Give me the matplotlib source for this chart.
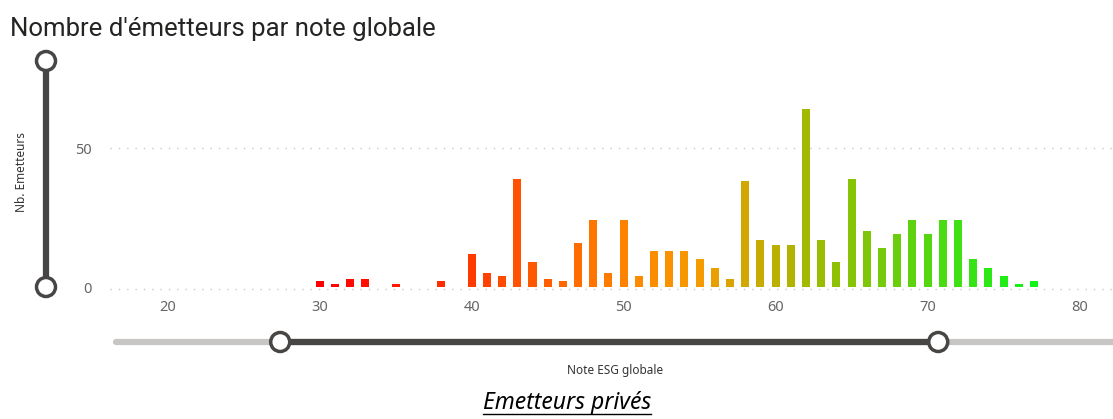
import numpy as np
import matplotlib
matplotlib.use("Agg")
import matplotlib.pyplot as plt
from matplotlib.colors import LinearSegmentedColormap
from matplotlib.lines import Line2D
from matplotlib.patches import Circle

# data
scores = [30, 31, 32, 33, 35, 38, 40, 41, 42, 43, 44, 45, 46, 47, 48, 49, 50,
          51, 52, 53, 54, 55, 56, 57, 58, 59, 60, 61, 62, 63, 64, 65, 66, 67,
          68, 69, 70, 71, 72, 73, 74, 75, 76, 77]
counts = [2, 1, 3, 3, 1, 2, 12, 5, 4, 39, 9, 3, 2, 16, 24, 5, 24,
          4, 13, 13, 13, 10, 7, 3, 38, 17, 15, 15, 64, 17, 9, 39, 20, 14,
          19, 24, 19, 24, 24, 10, 7, 4, 1, 2]
xticks = [20, 30, 40, 50, 60, 70, 80]
yticks = [0, 50]
x_range = (16.2, 82.2)
y_range = (0, 81.3)
slider_sel = (27.4, 70.7)

W, H = 1113, 419
fig = plt.figure(figsize=(W / 100, H / 100), dpi=100)
ax = fig.add_axes([110 / W, 1 - 287 / H, 1 - 110 / W, (287 - 61) / H])

cmap = LinearSegmentedColormap.from_list(
    "esg", [(0.0, "#ff0000"), (0.12, "#ff1a00"), (0.27, "#ff5000"),
            (0.45, "#ff8a00"), (0.53, "#f59a00"), (0.6, "#cfa800"),
            (0.69, "#9fba00"), (0.78, "#78c80a"), (0.88, "#48dc14"),
            (1.0, "#10f41a")])
norm = (np.array(scores) - 30) / (77 - 30)
ax.bar(scores, counts, width=0.53, color=cmap(norm), zorder=3)

ax.set_xlim(*x_range)
ax.set_ylim(*y_range)
ax.set_xticks(xticks)
ax.set_yticks(yticks)
for y in yticks:
    ax.axhline(y - 0.6 if y == 0 else y, color="#c8c8c8", lw=1,
               ls=(0, (1, 5)), zorder=1, clip_on=False)
for s in ax.spines.values():
    s.set_visible(False)
ax.tick_params(length=0, labelsize=10.5, labelcolor="#666666")
ax.tick_params(axis="x", pad=9)
ax.tick_params(axis="y", pad=13)
for lbl in ax.get_xticklabels() + ax.get_yticklabels():
    lbl.set_family("Noto Sans")

fig.text(10 / W, 1 - 36 / H, "Nombre d'émetteurs par note globale",
         fontsize=18.5, color="#252423", family="Roboto", va="baseline")
fig.text(22 / W, 1 - 172 / H, "Nb. Emetteurs", rotation=90, fontsize=8.5,
         color="#333333", ha="center", va="center", family="Noto Sans")
fig.text(615 / W, 1 - 370 / H, "Note ESG globale", fontsize=8.5,
         color="#333333", ha="center", va="center", family="Noto Sans")
cap = fig.text(567 / W, 1 - 403 / H, "Emetteurs privés", fontsize=16.5,
               style="italic", color="#000000", ha="center", va="center",
               family="Noto Sans")

# slider decorations, drawn in a pixel overlay
ov = fig.add_axes([0, 0, 1, 1], zorder=5)
ov.set_xlim(0, W)
ov.set_ylim(H, 0)
ov.axis("off")

def to_px(x, y):
    px, py = ax.transData.transform((x, y))
    return px, H - py

x0, _ = to_px(x_range[0], 0)
xa, _ = to_px(slider_sel[0], 0)
xb, _ = to_px(slider_sel[1], 0)
sy = 342
ov.add_line(Line2D([x0 + 6, W], [sy, sy], color="#c8c6c4", lw=4.5,
                   solid_capstyle="round"))
ov.add_line(Line2D([xa, xb], [sy, sy], color="#484644", lw=4.5))
for xx in (xa, xb):
    ov.add_patch(Circle((xx, sy), 9.5, fc="white", ec="#484644", lw=2.5,
                        zorder=6))

vx = 46
_, vy0 = to_px(30, y_range[0])
_, vy1 = to_px(30, y_range[1])
ov.add_line(Line2D([vx, vx], [vy0, vy1], color="#484644", lw=4.5))
for yy in (vy0, vy1):
    ov.add_patch(Circle((vx, yy), 9.5, fc="white", ec="#484644", lw=2.5,
                        zorder=6))

# underline for the caption
fig.canvas.draw()
bb = cap.get_window_extent(fig.canvas.get_renderer())
ov.add_line(Line2D([bb.x0, bb.x1], [H - bb.y0 - 1, H - bb.y0 - 1],
                   color="black", lw=1))

fig.savefig("out.png", dpi=100)
